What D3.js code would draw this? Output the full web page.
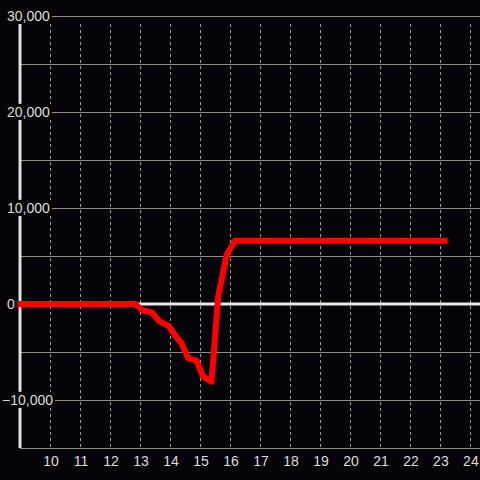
<!DOCTYPE html>
<html lang="en">
<head>
  <meta charset="utf-8">
  <title>chart</title>
  <script src="https://cdn.jsdelivr.net/npm/d3@7/dist/d3.min.js"></script>
  <style>
    body { margin: 0; background: #060408; overflow: hidden; }
    svg { display: block; }
    .tick-label { font: 14px 'Liberation Sans', Arial, sans-serif; fill: #dcdcdc; }
  </style>
</head>
<body>
  <div id="chart"></div>
  <script>
    // data (hour of day -> value)
    const hours  = [8.9, 12.82, 13.09, 13.37, 13.65, 13.93, 14.2, 14.37, 14.59, 14.87, 15.09, 15.37, 15.59, 15.87, 16.15, 23.24];
    const values = [0, 0, -700, -860, -1840, -2260, -3470, -4090, -5660, -5900, -7570, -8090, 760, 5100, 6600, 6600];
    const xTicks = [10, 11, 12, 13, 14, 15, 16, 17, 18, 19, 20, 21, 22, 23, 24];
    const yTicks = [30000, 20000, 10000, 0, -10000];
    const yGrid  = [30000, 25000, 20000, 15000, 10000, 5000, -5000, -10000, -15000];

    const width = 480, height = 480;
    const bg = "#060408";

    const svg = d3.select("#chart").append("svg")
      .attr("width", width).attr("height", height);

    const x = d3.scaleLinear().domain([9, 24.32]).range([20.5, 480]);
    const y = d3.scaleLinear().domain([-15000, 30000]).range([448, 16]);

    // vertical dashed grid
    svg.append("g").selectAll("line")
      .data(xTicks).enter().append("line")
      .attr("x1", d => Math.round(x(d)) + 0.5).attr("x2", d => Math.round(x(d)) + 0.5)
      .attr("y1", 24).attr("y2", 448)
      .attr("stroke", "#9a9a9a").attr("stroke-width", 1)
      .attr("stroke-dasharray", "3,3");

    // horizontal grid
    svg.append("g").selectAll("line")
      .data(yGrid).enter().append("line")
      .attr("x1", 20).attr("x2", width)
      .attr("y1", d => Math.round(y(d)) + 0.5).attr("y2", d => Math.round(y(d)) + 0.5)
      .attr("stroke", "#8c8c88").attr("stroke-width", 1);

    // zero line
    svg.append("line")
      .attr("x1", 20).attr("x2", width)
      .attr("y1", y(0)).attr("y2", y(0))
      .attr("stroke", "#e8e8e8").attr("stroke-width", 3);

    // y axis line
    svg.append("line")
      .attr("x1", 20).attr("x2", 20)
      .attr("y1", 24).attr("y2", 448)
      .attr("stroke", "#e0e0e0").attr("stroke-width", 3);

    // y labels with background box
    const fmt = d3.format(",");
    const yl = svg.append("g").selectAll("g")
      .data(yTicks).enter().append("g")
      .attr("transform", d => `translate(${d < 0 ? 2 : 7},${y(d)})`);
    yl.append("text")
      .attr("class", "tick-label")
      .attr("dy", "0.35em")
      .text(d => fmt(d))
      .each(function() {
        const b = this.getBBox();
        d3.select(this.parentNode).insert("rect", "text")
          .attr("x", b.x - 2).attr("y", b.y)
          .attr("width", b.width + 4).attr("height", b.height)
          .attr("fill", bg);
      });

    // x labels
    svg.append("g").selectAll("text")
      .data(xTicks).enter().append("text")
      .attr("class", "tick-label")
      .attr("x", d => x(d) + 0.5).attr("y", 466)
      .attr("text-anchor", "middle")
      .text(d => d);

    // the series
    const pts = hours.map((h, i) => [h, values[i]]);
    svg.append("path")
      .datum(pts)
      .attr("fill", "none")
      .attr("stroke", "#ff0000")
      .attr("stroke-width", 6)
      .attr("stroke-linejoin", "round")
      .attr("stroke-linecap", "butt")
      .attr("d", d3.line().x(d => x(d[0])).y(d => y(d[1])));
  </script>
</body>
</html>
